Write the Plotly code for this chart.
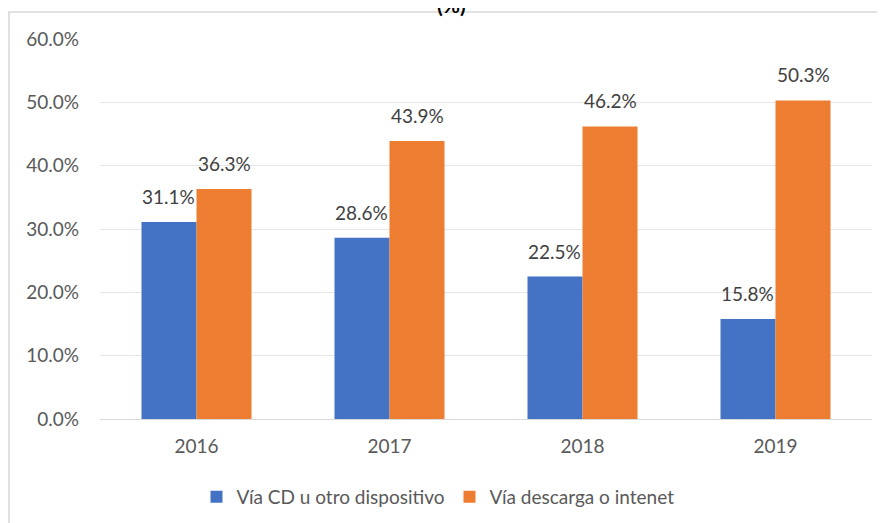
import plotly.graph_objects as go

years = ["2016", "2017", "2018", "2019"]
cd_vals = [31.1, 28.6, 22.5, 15.8]
dl_vals = [36.3, 43.9, 46.2, 50.3]
series_names = ["Vía CD u otro dispositivo", "Vía descarga o intenet"]
colors = ["#4472C4", "#ED7D31"]
y_ticks = [0, 10, 20, 30, 40, 50, 60]

# the page body has an 8px default margin, so the figure is sized/offset to match
OFF = 8
W, H = 885 - OFF, 523 - OFF
L, R, T, B = 100 - OFF, 13, 39 - OFF, 104
pw, ph = W - L - R, H - T - B
BARGAP = 0.43

def px(x):  # screen pixel -> paper
    return (x - OFF - L) / pw

def py(y):
    return (H - B - (y - OFF)) / ph

FONT = "Lato, Carlito, Calibri, sans-serif"
FS = 19

fig = go.Figure()
for name, vals, col in zip(series_names, [cd_vals, dl_vals], colors):
    fig.add_trace(go.Bar(
        x=years, y=vals, name=name, marker=dict(color=col, line=dict(width=0)),
    ))

# data labels above bars (offset by half a bar width within each group)
cat_w = pw / len(years)
bar_w = cat_w * (1 - BARGAP) / 2
for k, vals in enumerate([cd_vals, dl_vals]):
    shift = (k - 0.5) * bar_w
    for i, v in enumerate(vals):
        fig.add_annotation(x=i, y=v, text=f"{v:.1f}%", showarrow=False,
                           xshift=shift, yshift=12, yanchor="bottom", xanchor="center",
                           font=dict(size=FS, color="#404040", family=FONT))

fig.update_layout(
    width=W, height=H,
    margin=dict(l=L, r=R, t=T, b=B, autoexpand=False),
    paper_bgcolor="white", plot_bgcolor="white",
    barmode="group", bargap=BARGAP, bargroupgap=0,
    font=dict(family=FONT, size=FS, color="#595959"),
    showlegend=True,
    legend=dict(orientation="h", x=px(438), xanchor="center", y=py(497), yanchor="middle",
                font=dict(size=FS, color="#595959", family=FONT), itemwidth=30,
                traceorder="normal"),
)
fig.update_xaxes(type="category", range=[-0.5, len(years) - 0.5], autorange=False,
                 showgrid=False, showline=True, linecolor="#d9d9d9", linewidth=1,
                 ticks="", tickfont=dict(size=FS, color="#595959"), ticklabelstandoff=10)
fig.update_yaxes(range=[0, 60], autorange=False, tickvals=y_ticks,
                 ticktext=[f"{v:.1f}%" for v in y_ticks],
                 showgrid=True, gridcolor="#e6e6e6", gridwidth=1, zeroline=False,
                 showline=False, ticks="", tickfont=dict(size=FS, color="#595959"),
                 ticklabelstandoff=20)

# chart frame lines of the original chart area
fig.add_shape(type="line", xref="paper", yref="paper", x0=px(0), x1=px(885), y0=py(12), y1=py(12),
              line=dict(color="#d9d9d9", width=1.5))
fig.add_shape(type="line", xref="paper", yref="paper", x0=px(9), x1=px(9), y0=py(12), y1=py(523),
              line=dict(color="#d9d9d9", width=1.5))

# partially visible title
fig.add_annotation(text="<b>(%)</b>", xref="paper", yref="paper", x=px(451), y=py(19),
                   xanchor="center", yanchor="bottom", showarrow=False,
                   font=dict(size=21, color="#000000", family=FONT))

fig.write_html("out.html")
